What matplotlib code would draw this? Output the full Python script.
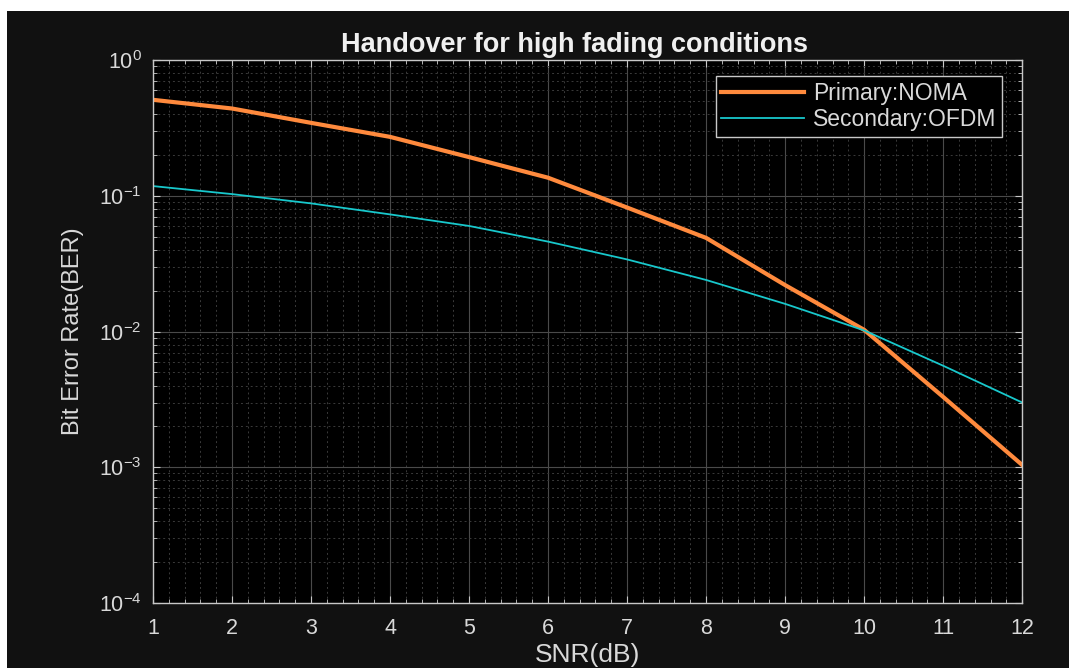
import numpy as np
import matplotlib.pyplot as plt
from matplotlib.patches import Rectangle
from matplotlib.ticker import MultipleLocator, LogLocator, NullFormatter

plt.rcParams['font.family'] = ['Liberation Sans', 'DejaVu Sans']
plt.rcParams['mathtext.fontset'] = 'custom'
plt.rcParams['mathtext.rm'] = 'Liberation Sans'

snr = [1, 2, 3, 4, 5, 6, 7, 8, 9, 10, 11, 12]
ber_noma = [0.51, 0.44, 0.345, 0.272, 0.193, 0.136, 0.082, 0.049, 0.022, 0.0103, 0.0033, 0.00104]
ber_ofdm = [0.118, 0.103, 0.088, 0.073, 0.060, 0.046, 0.034, 0.024, 0.016, 0.0102, 0.0056, 0.0030]

fg = '#d9d9d9'
fig = plt.figure(figsize=(10.69, 6.68), dpi=100, facecolor='white')
# dark panel behind everything, leaving a thin white margin top-left
fig.patches.append(Rectangle((7 / 1069, 0), 1, 1 - 11 / 668, transform=fig.transFigure,
                             facecolor='#111111', edgecolor='none', zorder=-10))

ax = fig.add_axes([0.1431, 0.0973, 0.8131, 0.8127])
ax.set_facecolor('black')

ax.plot(snr, ber_noma, color='#ff8a3d', linewidth=3, label='Primary:NOMA')
ax.plot(snr, ber_ofdm, color='#18c8cc', linewidth=1.3, label='Secondary:OFDM')

ax.set_yscale('log')
ax.set_xlim(1, 12)
ax.set_ylim(1e-4, 1)
ax.xaxis.set_major_locator(MultipleLocator(1))
ax.xaxis.set_minor_locator(MultipleLocator(0.2))
ax.yaxis.set_major_locator(LogLocator(base=10, numticks=10))
ax.yaxis.set_minor_locator(LogLocator(base=10, subs=np.arange(2, 10), numticks=10))
ax.yaxis.set_minor_formatter(NullFormatter())

ax.grid(True, which='major', color='#4a4a4a', linestyle='-', linewidth=0.8)
ax.grid(True, which='minor', color='#3a3a3a', linestyle=(0, (2, 3)), linewidth=0.7)
ax.set_axisbelow(True)

for s in ax.spines.values():
    s.set_color('#c8c8c8')
    s.set_linewidth(1)
ax.tick_params(which='both', direction='in', top=True, right=True, colors='#c8c8c8',
               labelcolor=fg, labelsize=15.5)
ax.tick_params(which='major', length=5)
ax.tick_params(which='minor', length=3)
ax.tick_params(axis='x', pad=11)
ax.tick_params(axis='y', pad=8)

ax.set_title('Handover for high fading conditions', color='#f0f0f0', fontsize=19.5,
             fontweight='bold', pad=6)
ax.title.set_x(0.485)
ax.set_xlabel('SNR(dB)', color=fg, fontsize=19, labelpad=3)
ax.set_ylabel('Bit Error Rate(BER)', color=fg, fontsize=17, labelpad=11)

leg = ax.legend(loc='upper right', bbox_to_anchor=(0.977, 0.9705), borderaxespad=0,
                fontsize=16.5, facecolor='black', edgecolor='#c8c8c8', framealpha=1,
                fancybox=False, handlelength=3.6, borderpad=0.25, labelspacing=0.15,
                handletextpad=0.4)
leg.get_frame().set_linewidth(1)
for t in leg.get_texts():
    t.set_color(fg)

fig.savefig('out.png', dpi=100, facecolor=fig.get_facecolor())
